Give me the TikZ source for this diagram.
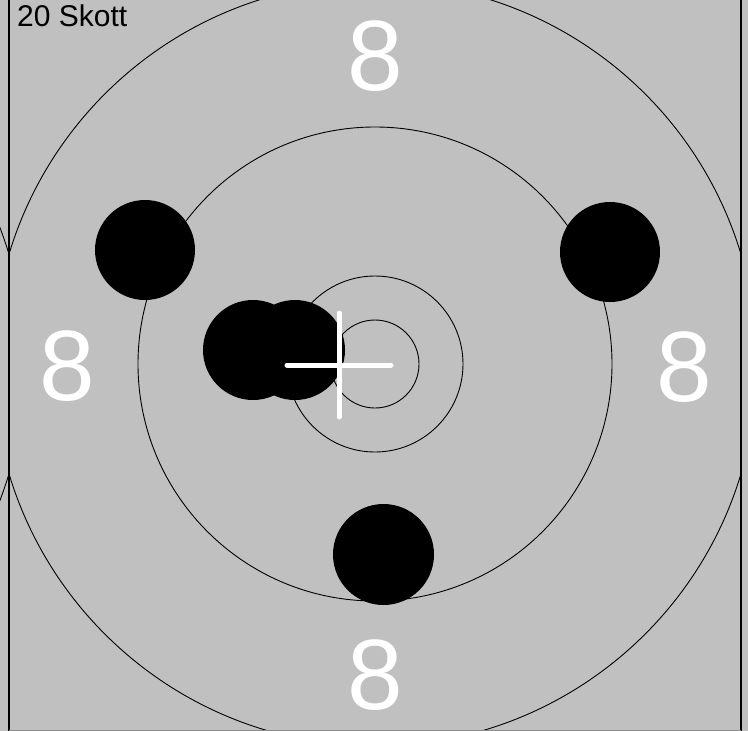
\documentclass[tikz,border=0pt]{standalone}
\usepackage{fontspec}
\setmainfont{Liberation Sans}
\definecolor{bg}{RGB}{192,192,192}
\begin{document}
\begin{tikzpicture}[x=1pt,y=-1pt,
  ring/.style={draw=black,line width=0.9pt},
  shot/.style={fill=black},
  edge/.style={draw=black,line width=1.3pt},
  cross/.style={draw=white,line width=5pt,line cap=round},
  score/.style={text=white,inner sep=0pt,anchor=base,font=\fontsize{100}{100}\selectfont},
  title/.style={text=black,inner sep=0pt,anchor=base west,font=\fontsize{30}{30}\selectfont}]
\useasboundingbox (0,0) rectangle (748,731);
\fill[bg] (0,0) rectangle (748,731);
\coordinate (C) at (375,364);
% rings
\draw[ring] (C) circle[radius=44];
\draw[ring] (C) circle[radius=88];
\draw[ring] (C) circle[radius=237];
\begin{scope}
  \clip (9,0) rectangle (741,731);
  \draw[ring] (C) circle[radius=382];
\end{scope}
\begin{scope}
  \clip (0,0) rectangle (9,731);
  \draw[ring] (-357,364) circle[radius=382];
\end{scope}
% panel edges
\coordinate (L1) at (9,0); \coordinate (L2) at (9,731);
\coordinate (R1) at (741,0); \coordinate (R2) at (741,731);
\draw[edge] (L1) -- (L2);
\draw[edge] (R1) -- (R2);
\draw[draw=gray!90,line width=1pt] (9,730.5) -- (741,730.5);
% shots
\fill[shot] (145,250) circle[radius=50];
\fill[shot] (610,252) circle[radius=50];
\fill[shot] (383.5,554.5) circle[radius=50.5];
\fill[shot] (253,350) circle[radius=50];
\fill[shot] (295,350) circle[radius=50];
% crosshair
\coordinate (H1) at (287,365); \coordinate (H2) at (391,365);
\coordinate (V1) at (339,313); \coordinate (V2) at (339,417);
\draw[cross] (H1) -- (H2);
\draw[cross] (V1) -- (V2);
% scores
\node[score] (s8t) at (375,90) {8};
\node[score] (s8b) at (375,709) {8};
\node[score] (s8l) at (67,400) {8};
\node[score] (s8r) at (684,401) {8};
\node[title] (lbl) at (17,26) {20 Skott};
\end{tikzpicture}
\end{document}
